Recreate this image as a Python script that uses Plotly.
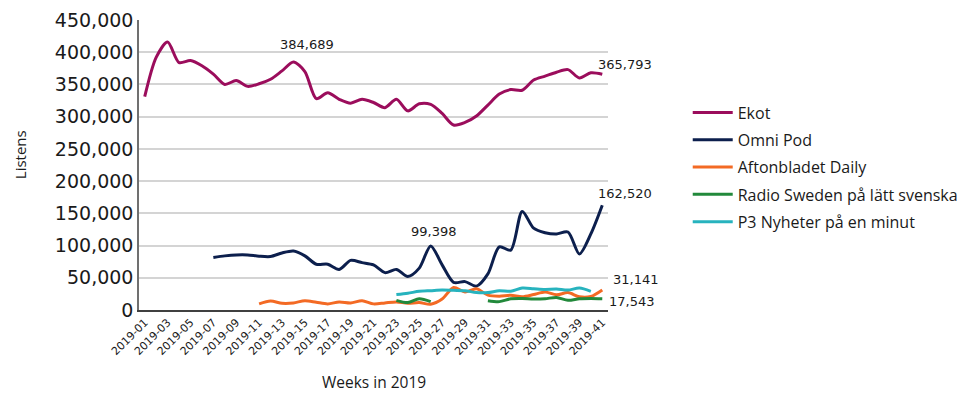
import plotly.graph_objects as go

weeks = ["2019-01", "2019-02", "2019-03", "2019-04", "2019-05", "2019-06", "2019-07",
         "2019-08", "2019-09", "2019-10", "2019-11", "2019-12", "2019-13", "2019-14",
         "2019-15", "2019-16", "2019-17", "2019-18", "2019-19", "2019-20", "2019-21",
         "2019-22", "2019-23", "2019-24", "2019-25", "2019-26", "2019-27", "2019-28",
         "2019-29", "2019-30", "2019-31", "2019-32", "2019-33", "2019-34", "2019-35",
         "2019-36", "2019-37", "2019-38", "2019-39", "2019-40", "2019-41"]

tick_labels = weeks[::2]

ekot = [331000, 392000, 416000, 384000, 387000, 379000, 366000, 350000, 356000, 347000,
        351000, 358000, 371000, 384689, 370000, 328000, 337000, 327000, 321000, 327000,
        322000, 314000, 327000, 309000, 320000, 319000, 305000, 287000, 291000, 301000,
        318000, 335000, 342000, 341000, 357000, 363000, 369000, 373000, 360000, 368000,
        365793]

omni_pod = [None, None, None, None, None, None,
            81500, 84000, 85500, 85500, 83500, 83000, 88500, 91500, 84000, 71000,
            71000, 63000, 77000, 73500, 70000, 58000, 63000, 52000, 65000, 99398,
            70000, 43000, 44000, 37000, 56000, 98000, 93000, 153000, 127000, 120000,
            118000, 121000, 87000, 118000, 162520]

aftonbladet = [None, None, None, None, None, None, None, None, None, None,
               9500, 14000, 10500, 11000, 14500, 12000, 9500, 12500, 11000, 14500,
               9500, 11000, 12500, 10500, 11500, 9000, 17000, 35000, 28000, 33000,
               23000, 21500, 23000, 20500, 24000, 28000, 23500, 27000, 20500, 21000,
               31141]

radio_sweden = [None, None, None, None, None, None, None, None, None, None,
                None, None, None, None, None, None, None, None, None, None,
                None, None, 15000, 11500, 17500, 13000, None, None, None, None,
                14500, 13000, 17500, 18000, 17000, 17500, 19500, 15000, 17500, 18000,
                17543]

p3_nyheter = [None, None, None, None, None, None, None, None, None, None,
              None, None, None, None, None, None, None, None, None, None,
              None, None, 24000, 26000, 29000, 30000, 31000, 30500, 30000, 27000,
              27000, 30000, 29000, 34000, 33000, 32000, 32500, 31000, 34000, 29000,
              None]

series = [
    ("Ekot", ekot, "#9b0d5c"),
    ("Omni Pod", omni_pod, "#0c1f4d"),
    ("Aftonbladet Daily", aftonbladet, "#f36a24"),
    ("Radio Sweden på lätt svenska", radio_sweden, "#22893b"),
    ("P3 Nyheter på en minut", p3_nyheter, "#27b3be"),
]

fig = go.Figure()
for name, vals, color in series:
    fig.add_trace(go.Scatter(
        x=weeks, y=vals, name=name, mode="lines", legendgroup=name,
        line=dict(color=color, width=3, shape="spline", smoothing=0.8),
        connectgaps=False,
    ))

label_font = dict(family="DejaVu Sans", size=13, color="#1a1a1a")
labels = [
    ("2019-14", 384689, "384,689", "center", 14, 18),
    ("2019-26", 99398, "99,398", "center", 3, 14),
    ("2019-41", 365793, "365,793", "left", -6, 10),
    ("2019-41", 162520, "162,520", "left", -6, 12),
    ("2019-41", 31141, "31,141", "left", 9, 10),
    ("2019-41", 17543, "17,543", "left", 5, -3),
]
for x, y, txt, anchor, xs, ys in labels:
    fig.add_annotation(x=x, y=y, text=txt, showarrow=False, xanchor=anchor,
                       yanchor="middle", xshift=xs, yshift=ys, font=label_font)

fig.add_annotation(xref="paper", yref="paper", x=0.5, y=-0.248, text="Weeks in 2019",
                   showarrow=False, xanchor="center", yanchor="middle",
                   font=dict(family="Open Sans", size=15.5, color="#1a1a1a"))
fig.add_annotation(xref="paper", yref="paper", x=-0.253, y=0.535, text="Listens",
                   showarrow=False, textangle=-90, xanchor="center", yanchor="middle",
                   font=dict(family="Open Sans", size=15, color="#1a1a1a"))

# the page body has an 8px margin, so the figure is sized to fit the window
fig.update_layout(
    width=967, height=389,
    margin=dict(l=131, r=359, t=12, b=87),
    paper_bgcolor="white", plot_bgcolor="white",
    showlegend=True,
    legend=dict(x=1.17, xanchor="left", y=0.493, yanchor="middle",
                font=dict(family="Open Sans", size=16, color="#1a1a1a"),
                itemwidth=40, tracegroupgap=3.5, bgcolor="rgba(0,0,0,0)"),
    xaxis=dict(type="category", tickmode="array", tickvals=tick_labels,
               ticktext=tick_labels, tickangle=-45, automargin=False,
               tickfont=dict(family="DejaVu Sans", size=11, color="#1a1a1a"),
               showgrid=False, showline=True, linecolor="#404040", linewidth=1.5,
               ticks="", range=[-0.5, 40.5]),
    yaxis=dict(range=[0, 450000], dtick=50000, tickformat=",", automargin=False,
               tickfont=dict(family="DejaVu Sans", size=19, color="#1a1a1a"),
               showgrid=True, gridcolor="#d4d4d4", gridwidth=1.5,
               showline=True, linecolor="#707070", linewidth=1.5,
               zeroline=False, ticks="", ticklen=0),
)

fig.write_html("out.html")
